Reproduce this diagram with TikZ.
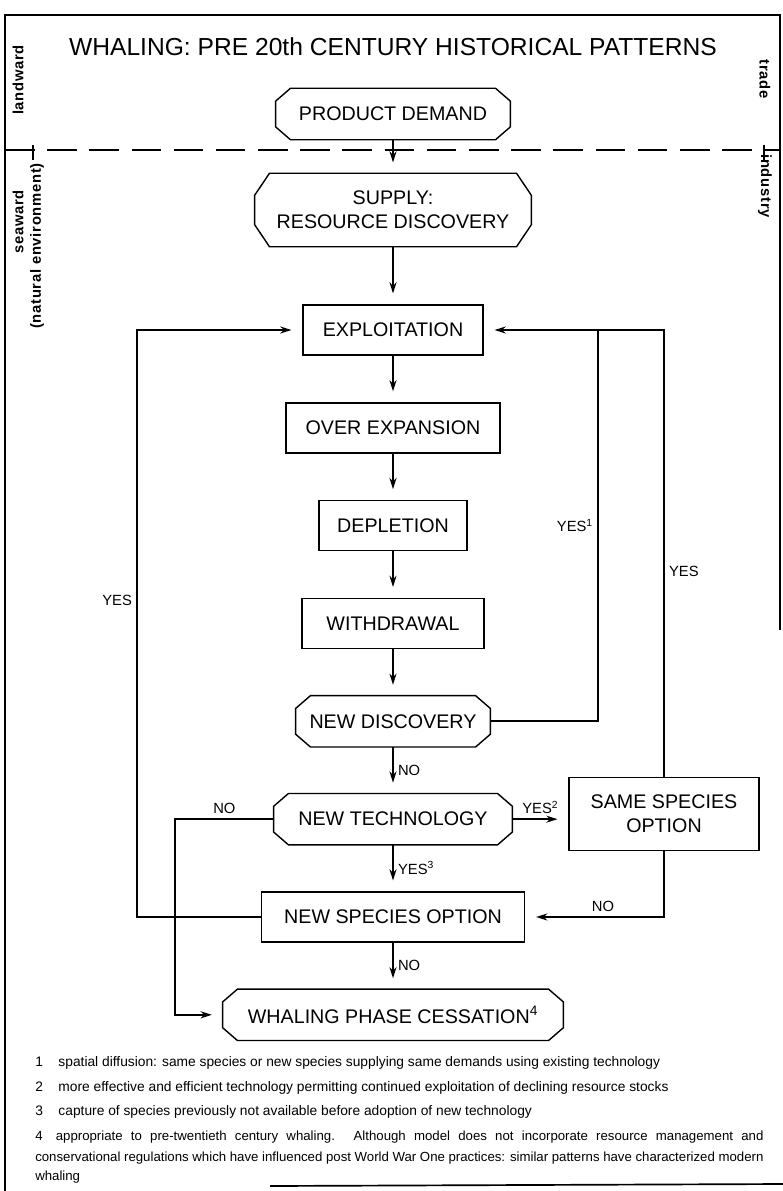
\documentclass[tikz,border=0pt]{standalone}
\usepackage{fontspec}
\setmainfont{Liberation Sans}
\newfontfamily\sidefont[LetterSpace=5]{Liberation Sans}
\usetikzlibrary{chains, positioning, arrows.meta}

% octagonal outline round a (borderless) rectangular node
\newcommand{\chamferbox}[3]{%
  \draw[line width=1pt] ([xshift=#2]#1.north west) -- ([xshift=-#2]#1.north east)
    -- ([yshift=-#3]#1.north east) -- ([yshift=#3]#1.south east)
    -- ([xshift=-#2]#1.south east) -- ([xshift=#2]#1.south west)
    -- ([yshift=#3]#1.south west) -- ([yshift=-#3]#1.north west) -- cycle;}

\begin{document}
\begin{tikzpicture}[x=0.025cm, y=-0.025cm,
    box/.style={rectangle, draw, line width=1pt, minimum height=1.25cm,
      inner sep=0pt, align=center, font=\fontsize{14}{17}\selectfont},
    oct/.style={box, draw=none},
    lbl/.style={inner sep=3pt, font=\fontsize{10.5}{12}\selectfont},
    side/.style={font=\sidefont\bfseries\fontsize{10.5}{12}\selectfont},
    foot/.style={anchor=west, inner sep=0pt, font=\fontsize{9.8}{11}\selectfont},
    longfoot/.style={foot, font=\fontsize{9.4}{11}\selectfont},
    arr/.style={->, line width=1.2pt, shorten >=0.27cm},
    line/.style={line width=1.2pt},
    >={Stealth[length=8pt, width=5pt]},
    node distance=1.16cm,
    start chain=main going below]
  \useasboundingbox (0,0) rectangle (783,1191);

  % frame and the land / sea divide
  \draw[line] (5,1191) -- (5,15) -- (780,15) -- (780,630);
  \draw[line] (270,1186) -- (783,1184);
  \draw[line width=1pt, dash pattern=on 21pt off 9pt] (5,150) -- (780,150);
  \draw[line width=1pt] (33,145) -- (33,160);
  \draw[line width=1pt] (764,145) -- (764,160);

  \node[font=\fontsize{17.5}{20}\selectfont] (title) at (393,47)
    {WHALING: PRE 20th CENTURY HISTORICAL PATTERNS};
  \node[side, rotate=90] (landward) at (18,80) {landward};
  \node[side, rotate=90] (seaward) at (18,222) {seaward};
  \node[side, rotate=90] (natenv) at (37,246) {(natural environment)};
  \node[side, rotate=-90] (trade) at (765,79) {trade};
  \node[side, rotate=-90] (industry) at (765,186) {industry};

  % demand and supply
  \node[oct, minimum width=5.83cm] (pd) at (393,114) {PRODUCT DEMAND};
  \node[oct, minimum width=6.88cm, minimum height=1.8cm] (supply) at (393,210)
    {SUPPLY:\\RESOURCE DISCOVERY};

  % main column
  \node[box, on chain, minimum width=4.5cm] (expl) at (393,330) {EXPLOITATION};
  \node[box, on chain, minimum width=5.35cm] (overexp) {OVER EXPANSION};
  \node[box, on chain, minimum width=3.7cm] (depl) {DEPLETION};
  \node[box, on chain, minimum width=4.55cm] (withdr) {WITHDRAWAL};
  \node[oct, on chain, minimum width=4.83cm] (nd) {NEW DISCOVERY};
  \node[oct, on chain, minimum width=5.93cm] (nt) {NEW TECHNOLOGY};
  \node[box, on chain, minimum width=6.58cm] (ns) {NEW SPECIES OPTION};
  \node[oct, on chain, minimum width=8.48cm] (wpc) {WHALING PHASE CESSATION\textsuperscript{4}};
  \node[box, minimum width=4.75cm, minimum height=1.83cm] (ss) at (664,814)
    {SAME SPECIES\\OPTION};

  \chamferbox{pd}{0.37cm}{0.32cm}
  \chamferbox{supply}{0.37cm}{0.55cm}
  \chamferbox{nd}{0.37cm}{0.32cm}
  \chamferbox{nt}{0.37cm}{0.32cm}
  \chamferbox{wpc}{0.37cm}{0.32cm}

  \coordinate (leftrun) at (137,0);
  \coordinate (norun) at (175,0);
  \coordinate (yesone) at (598,0);

  \draw[arr] (pd) -- (supply);
  \draw[arr] (supply) -- (expl);
  \draw[arr] (expl) -- (overexp);
  \draw[arr] (overexp) -- (depl);
  \draw[arr] (depl) -- (withdr);
  \draw[arr] (withdr) -- (nd);
  \draw[arr] (nd) -- node[lbl, right] {NO} (nt);
  \draw[arr] (nt) -- node[lbl, right] {YES\textsuperscript{3}} (ns);
  \draw[arr] (ns) -- node[lbl, right] {NO} (wpc);

  \draw[arr] (nt.east) -- node[lbl, above] {YES\textsuperscript{2}} (nt.east -| ss.west);
  \draw[arr] (ss.south) |- node[lbl, pos=0.72, above] {NO} (ns.east);
  \draw[arr] (nd.east) -- (nd.east -| yesone)
    |- node[lbl, pos=0.25, left] {YES\textsuperscript{1}} (expl.east);
  \draw[line] (ss.north) |- node[lbl, pos=0.23, right] {YES} (expl.east -| yesone);
  \draw[arr] (ns.west) -- (ns.west -| leftrun)
    |- node[lbl, pos=0.27, left] {YES} (expl.west);
  \draw[arr] (nt.west) -- node[lbl, above] {NO} (nt.west -| norun) |- (wpc.west);

  % notes
  \node[foot] (fn1) at (35,1063) {\makebox[0.58cm][l]{1}spatial diffusion: same species or new species supplying same demands using existing technology};
  \node[foot] (fn2) at (35,1088) {\makebox[0.58cm][l]{2}more effective and efficient technology permitting continued exploitation of declining resource stocks};
  \node[foot] (fn3) at (35,1112) {\makebox[0.58cm][l]{3}capture of species previously not available before adoption of new technology};
  \node[longfoot] (fn4a) at (35,1137) {\hbox to 18.2cm{4\quad appropriate to pre-twentieth century whaling. Although model does not incorporate resource management and}};
  \node[longfoot] (fn4b) at (35,1158) {\hbox to 18.2cm{conservational regulations which have influenced post World War One practices: similar patterns have characterized modern}};
  \node[longfoot] (fn4c) at (35,1177) {whaling};
\end{tikzpicture}
\end{document}
